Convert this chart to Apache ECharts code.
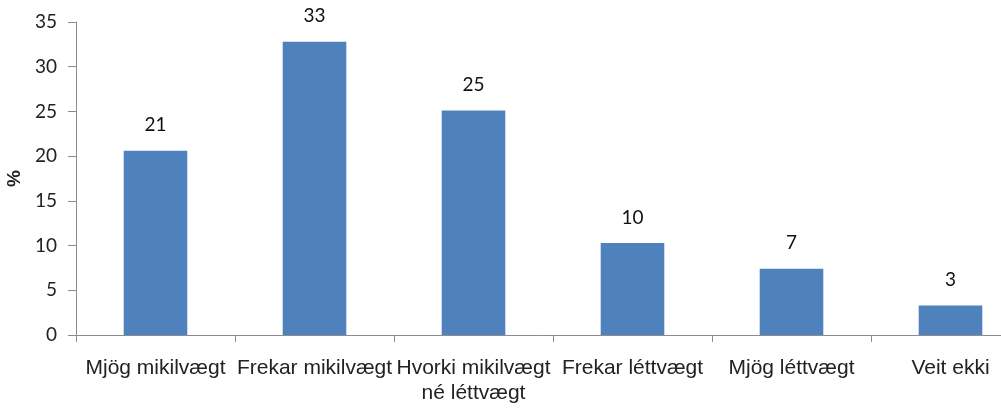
<!DOCTYPE html>
<html>
<head>
<meta charset="utf-8">
<script src="https://cdn.jsdelivr.net/npm/echarts@6/dist/echarts.min.js"></script>
<style>html,body{margin:0;padding:0;background:#fff;overflow:hidden;}#c{width:1001px;height:410px;}</style>
</head>
<body>
<div id="c"></div>
<script>
const categories = ['Mjög mikilvægt', 'Frekar mikilvægt', 'Hvorki mikilvægt\nné léttvægt', 'Frekar léttvægt', 'Mjög léttvægt', 'Veit ekki'];
const values = [20.6, 32.8, 25.1, 10.3, 7.4, 3.3];
const yTicks = [0, 5, 10, 15, 20, 25, 30, 35];
const yAxisName = '%';

const chart = echarts.init(document.getElementById('c'), null, {renderer: 'canvas'});
chart.setOption({
  animation: false,
  backgroundColor: '#ffffff',
  grid: {left: 76, width: 954, top: 22, bottom: 75, containLabel: false, outerBoundsMode: 'none'},
  xAxis: {
    type: 'category',
    data: categories,
    axisLine: {lineStyle: {color: '#8c8c8c', width: 1}},
    axisTick: {show: true, length: 7, lineStyle: {color: '#8c8c8c'}},
    axisLabel: {color: '#222', fontFamily: 'Liberation Sans', fontSize: 21, margin: 21, lineHeight: 25, interval: 0}
  },
  yAxis: {
    type: 'value',
    min: yTicks[0], max: yTicks[yTicks.length - 1], interval: 5,
    name: yAxisName,
    nameLocation: 'middle',
    nameRotate: 90,
    nameGap: 51,
    nameTextStyle: {color: '#222', fontFamily: 'Liberation Sans', fontWeight: 'bold', fontSize: 19},
    axisLine: {show: true, lineStyle: {color: '#8c8c8c'}},
    axisTick: {show: true, length: 8, lineStyle: {color: '#8c8c8c'}},
    splitLine: {show: false},
    axisLabel: {color: '#222', fontFamily: 'Lato', fontSize: 19, margin: 19}
  },
  series: [{
    type: 'bar',
    data: values,
    barCategoryGap: '60%',
    itemStyle: {color: '#4f81bd'},
    label: {
      show: true, position: 'top', distance: 16,
      color: '#111', fontFamily: 'Lato', fontSize: 19,
      formatter: p => Math.round(p.value)
    }
  }]
});
</script>
</body>
</html>
